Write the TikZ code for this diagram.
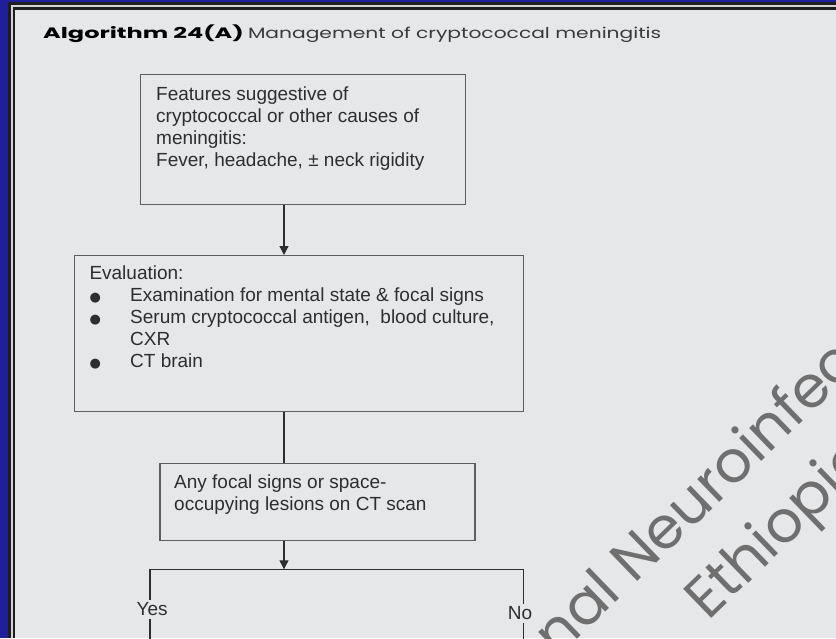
\documentclass[tikz,border=0pt]{standalone}
\usepackage{fontspec}
\setmainfont{Liberation Sans}
\newfontfamily\titlefont{Poppins}[FakeStretch=1.35]
\newfontfamily\titleboldfont{Poppins}[FakeStretch=1.6]
\newfontfamily\markfont{Poppins}
\newfontfamily\dotfont{DejaVu Sans}
\usetikzlibrary{arrows.meta}

\definecolor{slideblue}{HTML}{1F1F9C}
\definecolor{framedark}{HTML}{1E1E1E}
\definecolor{framelight}{HTML}{D4D4D4}
\definecolor{panelgray}{HTML}{E6E7E9}
\definecolor{boxline}{HTML}{5E5E5E}
\definecolor{inkgray}{HTML}{2E2E2E}
\definecolor{titlegray}{HTML}{3A3A3A}
\definecolor{markgray}{HTML}{6F6F6F}

\newcommand{\bul}{\makebox[40.7pt][l]{{\dotfont\fontsize{13}{13}\selectfont ●}}}

\tikzset{
  flowbox/.style={draw=boxline, line width=1.4pt, anchor=north west, inner sep=0pt},
  boxtext/.style={anchor=north west, inner sep=0pt, align=left, text=inkgray,
    font=\fontsize{19}{21.8}\selectfont},
  branchlabel/.style={inner sep=2.5pt, text=inkgray, font=\fontsize{19}{21.8}\selectfont},
  link/.style={draw=inkgray, line width=1.2pt},
  flowarrow/.style={link, -{Triangle[length=9pt,width=9pt]}},
  watermark/.style={rotate=44, anchor=base west, inner sep=0pt, text=markgray,
    font=\markfont\fontsize{58}{70}\selectfont}
}

\begin{document}
\begin{tikzpicture}[x=1pt, y=-1pt]
  \useasboundingbox (0,0) rectangle (836,638);
  % slide frame
  \foreach \c/\lx/\ty in {slideblue/0/0, framedark/8/2, framelight/11/5, framedark/12.7/7.3, panelgray/15/10}
    \fill[\c] (\lx,\ty) rectangle (836,638);

  % watermark
  \begin{scope}
    \clip (0,0) rectangle (836,638);
    \node[watermark] (markone) at (557.7,658.3) {nal Neuroinfect};
    \node[watermark] (marktwo) at (708.3,621.7) {Ethiopia};
  \end{scope}

  \node[anchor=base west, inner sep=0pt, font=\fontsize{15}{18}\selectfont] (title) at (43,38)
    {{\titleboldfont\bfseries Algorithm 24(A)} {\titlefont\color{titlegray}Management of cryptococcal meningitis}};

  % boxes
  \node[flowbox, minimum width=325pt, minimum height=130pt] (features) at (140,74) {};
  \node[flowbox, minimum width=448.7pt, minimum height=156pt] (evaluation) at (74,255) {};
  \node[flowbox, minimum width=315pt, minimum height=77.3pt] (lesion) at (159.3,462.7) {};

  \node[boxtext] (featurestext) at (156,86.8)
    {Features suggestive of\\cryptococcal or other causes of\\meningitis:\\Fever, headache, ± neck rigidity};
  \node[boxtext] (evaltext) at (89.3,266)
    {Evaluation:\\\bul Examination for mental state \& focal signs\\\bul Serum cryptococcal antigen,~ blood culture,\\\hspace*{40.7pt}CXR\\\bul CT brain};
  \node[boxtext] (lesiontext) at (174,474.4)
    {Any focal signs or space-\\occupying lesions on CT scan};

  % connectors
  \coordinate (spine) at (284,0);
  \draw[flowarrow] (features.south -| spine) -- (evaluation.north -| spine);
  \draw[link] (evaluation.south -| spine) -- (lesion.north -| spine);
  \coordinate (split) at (284,569.3);
  \draw[flowarrow] (lesion.south -| spine) -- (split);

  \coordinate (yesturn) at (150,569.3);
  \coordinate (noturn) at (523.3,569.3);
  \node[branchlabel] (yes) at (152.2,609.2) {Yes};
  \node[branchlabel] (no) at (520,613.2) {No};
  \coordinate (yesend) at (150,640);
  \coordinate (noend) at (523.3,640);
  \draw[link] (yesturn |- yes.north) -- (yesturn) -- (noturn) -- (noturn |- no.north);
  \draw[link] (yesturn |- yes.south) -- (yesend);
  \draw[link] (noturn |- no.south) -- (noend);
\end{tikzpicture}
\end{document}
